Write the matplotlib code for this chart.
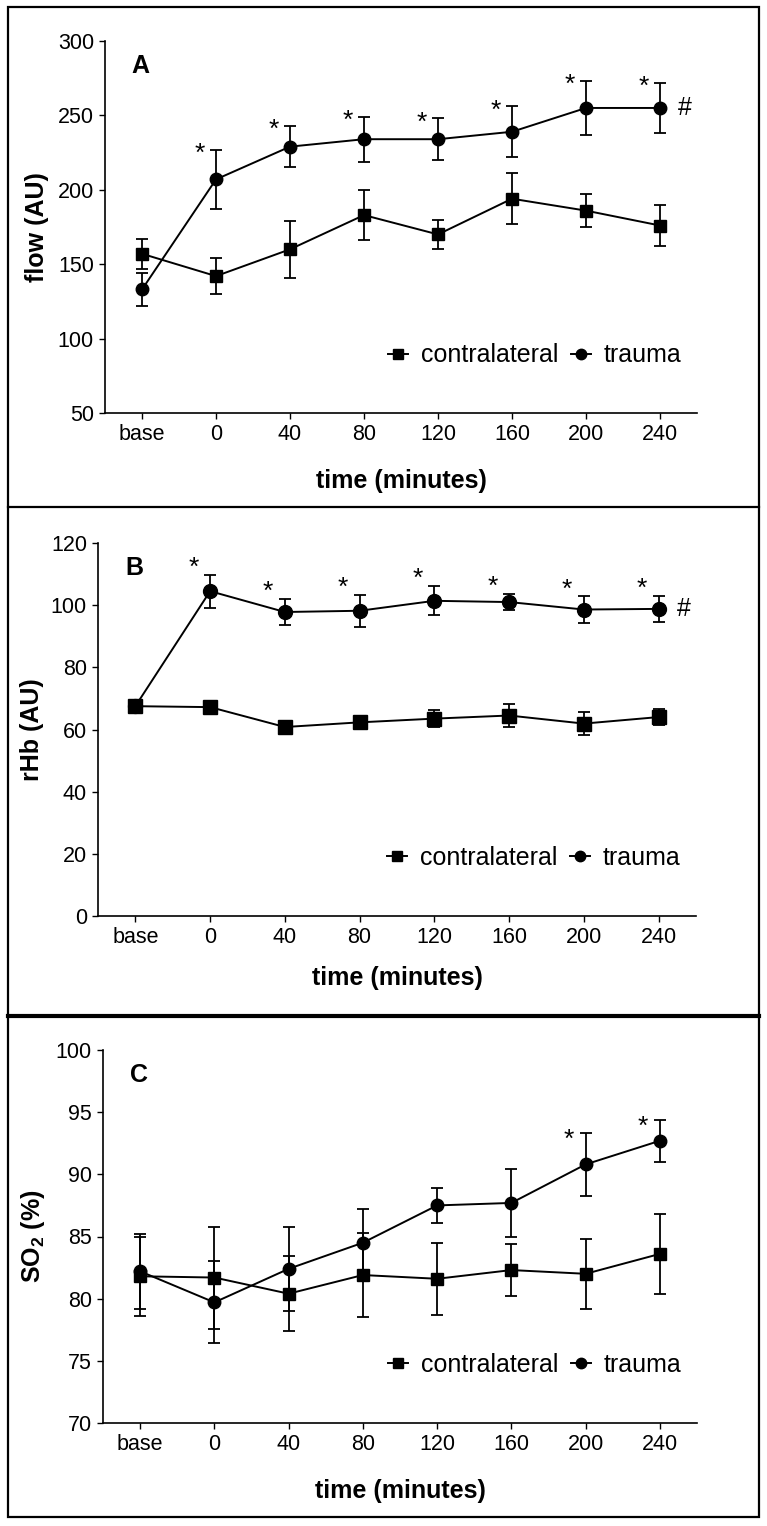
import matplotlib
matplotlib.use("Agg")
import matplotlib.pyplot as plt
from matplotlib.lines import Line2D
from matplotlib.patches import Rectangle

plt.rcParams["font.family"] = ["Liberation Sans", "DejaVu Sans"]
plt.rcParams["mathtext.fontset"] = "custom"
plt.rcParams["mathtext.rm"] = "Liberation Sans"
plt.rcParams["mathtext.bf"] = "Liberation Sans:bold"

time_labels = ["base", "0", "40", "80", "120", "160", "200", "240"]

# panel A: flow
flow_contra = [157, 142, 160, 183, 170, 194, 186, 176]
flow_contra_err = [10, 12, 19, 17, 10, 17, 11, 14]
flow_trauma = [133, 207, 229, 234, 234, 239, 255, 255]
flow_trauma_err = [11, 20, 14, 15, 14, 17, 18, 17]
flow_sig = [1, 2, 3, 4, 5, 6, 7]

# panel B: rHb
rhb_contra = [67.5, 67.2, 60.8, 62.3, 63.5, 64.5, 61.9, 64.0]
rhb_contra_err = [1.5, 1.5, 1.0, 1.8, 2.7, 3.8, 3.6, 2.5]
rhb_trauma = [67.5, 104.5, 97.8, 98.2, 101.4, 101.0, 98.6, 98.8]
rhb_trauma_err = [1.5, 5.3, 4.2, 5.2, 4.7, 2.7, 4.2, 4.1]
rhb_sig = [1, 2, 3, 4, 5, 6, 7]

# panel C: SO2
so2_contra = [81.8, 81.7, 80.4, 81.9, 81.6, 82.3, 82.0, 83.6]
so2_contra_err = [3.2, 4.1, 3.0, 3.4, 2.9, 2.1, 2.8, 3.2]
so2_trauma = [82.2, 79.7, 82.4, 84.5, 87.5, 87.7, 90.8, 92.7]
so2_trauma_err = [3.0, 3.3, 3.4, 2.7, 1.4, 2.7, 2.55, 1.7]
so2_sig = [6, 7]

W, H = 767, 1526
fig = plt.figure(figsize=(W / 100, H / 100), dpi=100)


def px_axes(left, top, right, bottom):
    return fig.add_axes([left / W, 1 - bottom / H, (right - left) / W, (bottom - top) / H])


def draw_panel(ax, contra, contra_err, trauma, trauma_err, ylim, ystep,
               ylabel, letter, sig, star_dy, show_hash, ms, ylab_x, xlab_y):
    x = list(range(len(time_labels)))
    ax.errorbar(x, contra, yerr=contra_err, color="black", marker="s", ms=ms,
                lw=1.4, elinewidth=1.3, capsize=4, capthick=1.3, zorder=3)
    ax.errorbar(x, trauma, yerr=trauma_err, color="black", marker="o", ms=ms,
                lw=1.4, elinewidth=1.3, capsize=4, capthick=1.3, zorder=4)

    # significance stars, left of the upper error cap
    for i in sig:
        ax.annotate("*", xy=(i, trauma[i] + trauma_err[i]),
                    xytext=(-12, star_dy - 10), textcoords="offset points",
                    ha="center", va="baseline", fontsize=19)
    if show_hash:
        ax.annotate("#", xy=(x[-1], trauma[-1]), xytext=(18, 0),
                    textcoords="offset points", ha="center", va="center",
                    fontsize=18)

    ax.set_xlim(-0.5, 7.5)
    ax.set_ylim(*ylim)
    ax.set_yticks(range(ylim[0], ylim[1] + 1, ystep))
    ax.set_xticks(x)
    ax.set_xticklabels(time_labels)
    ax.tick_params(direction="out", length=4, width=1, labelsize=15.5, pad=4)
    for side in ("top", "right"):
        ax.spines[side].set_visible(False)
    for side in ("left", "bottom"):
        ax.spines[side].set_linewidth(1.2)

    ax.set_xlabel("time (minutes)", fontsize=18, fontweight="bold")
    ax.xaxis.set_label_coords(0.5, xlab_y)
    ax.set_ylabel(ylabel, fontsize=18, fontweight="bold")
    ax.yaxis.set_label_coords(ylab_x, 0.5)

    ax.text(0.045, 0.965, letter, transform=ax.transAxes, ha="left", va="top",
            fontsize=18, fontweight="bold")

    handles = [
        Line2D([], [], color="black", lw=1.4, marker="s", ms=7.5),
        Line2D([], [], color="black", lw=1.4, marker="o", ms=7.5),
    ]
    ax.legend(handles, ["contralateral", "trauma"], loc="center right",
              bbox_to_anchor=(0.99, 0.155), ncol=2, frameon=False, fontsize=18,
              handlelength=0.8, handletextpad=0.5, columnspacing=0.5,
              borderaxespad=0)


ax_a = px_axes(105, 41, 697, 413)
draw_panel(ax_a, flow_contra, flow_contra_err, flow_trauma, flow_trauma_err,
           (50, 300), 50, "flow (AU)", "A", flow_sig, 2, True, 9, -0.095, -0.15)

ax_b = px_axes(98, 543, 696, 916)
draw_panel(ax_b, rhb_contra, rhb_contra_err, rhb_trauma, rhb_trauma_err,
           (0, 120), 20, "rHb (AU)", "B", rhb_sig, 10, True, 10, -0.09, -0.135)

ax_c = px_axes(103, 1050, 697, 1423)
draw_panel(ax_c, so2_contra, so2_contra_err, so2_trauma, so2_trauma_err,
           (70, 100), 5, r"SO$_\mathbf{2}$ (%)", "C", so2_sig, 0, False, 9,
           -0.095, -0.15)

# panel frames
fig.patches.append(Rectangle((8 / W, 1 - 1517 / H), (759 - 8) / W, (1517 - 7) / H,
                             transform=fig.transFigure, fill=False, lw=1.6,
                             ec="black"))
fig.lines.append(Line2D([8 / W, 759 / W], [1 - 507 / H] * 2,
                        transform=fig.transFigure, color="black", lw=1.6))
fig.lines.append(Line2D([8 / W, 759 / W], [1 - 1016 / H] * 2,
                        transform=fig.transFigure, color="black", lw=3))

fig.savefig("out.png", dpi=100)
